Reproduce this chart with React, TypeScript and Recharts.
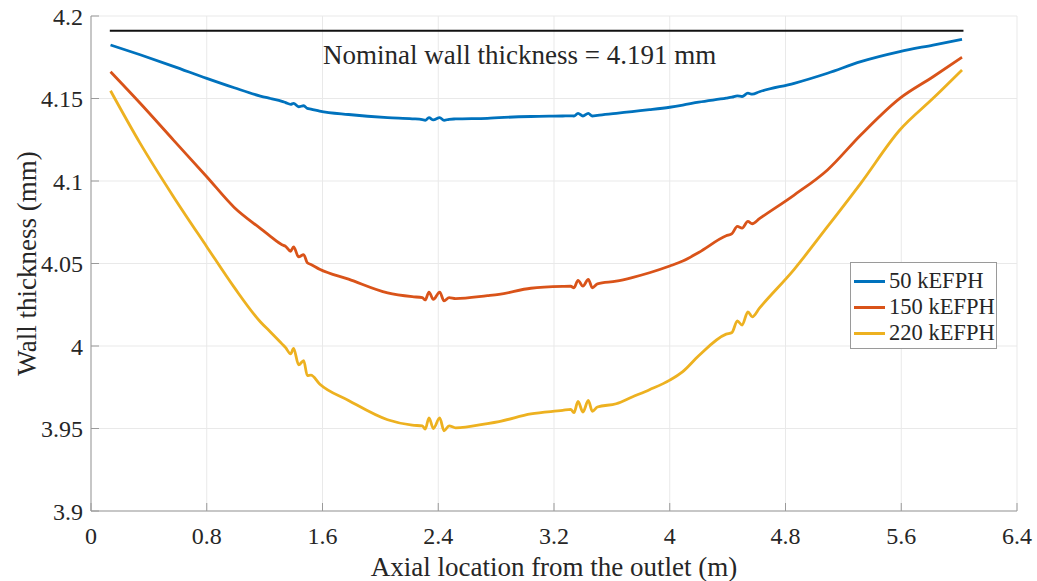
import {
  LineChart,
  Line,
  XAxis,
  YAxis,
  CartesianGrid,
  ReferenceLine,
  Legend,
  Label,
} from 'recharts';

// axial positions along the tube (m)
const AXIAL_M = [
  0.135, 0.34, 0.57, 0.8, 0.99, 1.17, 1.24, 1.32, 1.345, 1.38, 1.4, 1.435, 1.47, 1.495, 1.52, 1.58,
  1.78, 2.05, 2.22, 2.29, 2.31, 2.336, 2.366, 2.41, 2.44, 2.475, 2.52, 2.74, 2.82, 3.04, 3.26, 3.315,
  3.338, 3.366, 3.4, 3.437, 3.465, 3.5, 3.63, 3.74, 3.86, 4.0, 4.09, 4.2, 4.39, 4.43, 4.467, 4.5,
  4.54, 4.57, 4.62, 4.86, 5.09, 5.32, 5.59, 5.82, 6.02,
];

// wall thickness (mm) for each power level
const WALL_50 = [
  4.1824, 4.1765, 4.1695, 4.1622, 4.1565, 4.1515, 4.15, 4.1483, 4.1475, 4.1465, 4.147, 4.145, 4.1456,
  4.144, 4.1436, 4.1424, 4.1403, 4.1384, 4.1377, 4.1372, 4.1368, 4.1384, 4.137, 4.1384, 4.1368,
  4.1374, 4.1376, 4.138, 4.1384, 4.1391, 4.1394, 4.1395, 4.1394, 4.141, 4.1394, 4.141, 4.1394,
  4.1398, 4.141, 4.1421, 4.1432, 4.1447, 4.146, 4.1478, 4.1502, 4.1508, 4.1516, 4.1512, 4.1532,
  4.1526, 4.1541, 4.1592, 4.1653, 4.1723, 4.1784, 4.1824, 4.1859,
];
const WALL_150 = [
  4.1662, 4.1471, 4.1248, 4.1026, 4.084, 4.0713, 4.0665, 4.0614, 4.0604, 4.0574, 4.0601, 4.054,
  4.0554, 4.0504, 4.0494, 4.0465, 4.0405, 4.0322, 4.0299, 4.0293, 4.0279, 4.0327, 4.0283, 4.0327,
  4.0273, 4.0293, 4.0287, 4.0305, 4.0313, 4.035, 4.0361, 4.0362, 4.0353, 4.0398, 4.0363, 4.0404,
  4.0353, 4.0377, 4.0393, 4.0415, 4.0444, 4.0485, 4.0515, 4.0567, 4.0668, 4.0681, 4.0725, 4.0715,
  4.0755, 4.0741, 4.0772, 4.0915, 4.1067, 4.1279, 4.1501, 4.1632, 4.175,
];
const WALL_220 = [
  4.1547, 4.1228, 4.0905, 4.0602, 4.0355, 4.0147, 4.0085, 4.0013, 3.999, 3.9952, 3.9986, 3.9886,
  3.9911, 3.9821, 3.9823, 3.977, 3.967, 3.9553, 3.952, 3.9516, 3.9496, 3.9564, 3.95, 3.9564, 3.9486,
  3.9516, 3.9504, 3.953, 3.9542, 3.9588, 3.961, 3.9616, 3.9596, 3.9664, 3.96, 3.967, 3.9604, 3.963,
  3.965, 3.9691, 3.9735, 3.9793, 3.9845, 3.9941, 4.0072, 4.0082, 4.0152, 4.0127, 4.0207, 4.0177,
  4.023, 4.0465, 4.0723, 4.0986, 4.1309, 4.1501, 4.1673,
];

const NOMINAL_MM = 4.191;
const NOMINAL_SPAN = [0.13, 6.03];

const X_TICKS = [0, 0.8, 1.6, 2.4, 3.2, 4, 4.8, 5.6, 6.4];
const Y_TICKS = [3.9, 3.95, 4, 4.05, 4.1, 4.15, 4.2];

const SERIES = [
  { key: 'p50', name: '50 kEFPH', color: '#0072BD', values: WALL_50 },
  { key: 'p150', name: '150 kEFPH', color: '#D95319', values: WALL_150 },
  { key: 'p220', name: '220 kEFPH', color: '#EDB120', values: WALL_220 },
];

const rows = AXIAL_M.map((x, i) => {
  const row: Record<string, number> = { x };
  SERIES.forEach((s) => {
    row[s.key] = s.values[i];
  });
  return row;
});

const FONT = '"Liberation Serif", "Times New Roman", serif';
const TEXT = '#262626';
const AXIS = '#9a9a9a';
const tickStyle = { fill: TEXT, fontSize: 24, fontFamily: FONT };

function YTitle({ viewBox }: any) {
  const cx = viewBox.x + 27;
  const cy = viewBox.y + viewBox.height / 2;
  return (
    <text
      x={cx}
      y={cy}
      transform={`rotate(-90, ${cx}, ${cy})`}
      textAnchor="middle"
      dominantBaseline="central"
      fill={TEXT}
      fontSize={27}
      fontFamily={FONT}
    >
      Wall thickness (mm)
    </text>
  );
}

function XTitle({ viewBox }: any) {
  return (
    <text
      x={viewBox.x + viewBox.width / 2}
      y={viewBox.y + 65}
      textAnchor="middle"
      fill={TEXT}
      fontSize={27}
      fontFamily={FONT}
    >
      Axial location from the outlet (m)
    </text>
  );
}

function NominalText({ viewBox }: any) {
  return (
    <text
      x={viewBox.x + viewBox.width / 2 - 17}
      y={viewBox.y + 33}
      textAnchor="middle"
      fill={TEXT}
      fontSize={27}
      fontFamily={FONT}
    >
      {`Nominal wall thickness = ${NOMINAL_MM} mm`}
    </text>
  );
}

function LegendBox() {
  return (
    <div
      style={{
        boxSizing: 'border-box',
        width: 147,
        height: 87,
        border: `1px solid ${AXIS}`,
        background: '#fff',
        padding: '5px 0 0 3px',
        fontFamily: FONT,
        fontSize: 22.5,
        color: TEXT,
      }}
    >
      {SERIES.map((s) => (
        <div key={s.key} style={{ display: 'flex', alignItems: 'center', height: 26 }}>
          <span style={{ width: 31, height: 3, background: s.color, marginRight: 4 }} />
          <span style={{ lineHeight: '26px' }}>{s.name}</span>
        </div>
      ))}
    </div>
  );
}

export default function App() {
  return (
    <div style={{ position: 'absolute', left: 0, top: 0, background: '#fff' }}>
      <LineChart width={1037} height={581} data={rows} margin={{ top: 16, right: 20, bottom: 0, left: 0 }}>
        <CartesianGrid stroke="#e9e9e9" strokeWidth={1} />
        <XAxis
          dataKey="x"
          type="number"
          domain={[0, 6.4]}
          ticks={X_TICKS}
          interval={0}
          height={70}
          tick={tickStyle}
          tickFormatter={(v) => String(v)}
          tickSize={-8}
          tickMargin={24}
          stroke={AXIS}
          allowDataOverflow
        >
          <Label content={<XTitle />} />
        </XAxis>
        <XAxis
          xAxisId="top"
          orientation="top"
          type="number"
          domain={[0, 6.4]}
          ticks={X_TICKS}
          interval={0}
          height={0}
          tick={false}
          tickSize={-8}
          stroke={AXIS}
        />
        <YAxis
          type="number"
          domain={[3.9, 4.2]}
          ticks={Y_TICKS}
          interval={0}
          width={91}
          tick={tickStyle}
          tickFormatter={(v) => String(v)}
          tickSize={-8}
          tickMargin={16}
          stroke={AXIS}
          allowDataOverflow
        >
          <Label content={<YTitle />} />
        </YAxis>
        <YAxis
          yAxisId="right"
          orientation="right"
          type="number"
          domain={[3.9, 4.2]}
          ticks={Y_TICKS}
          interval={0}
          width={0}
          tick={false}
          tickSize={-8}
          stroke={AXIS}
        />
        <ReferenceLine
          segment={[
            { x: NOMINAL_SPAN[0], y: NOMINAL_MM },
            { x: NOMINAL_SPAN[1], y: NOMINAL_MM },
          ]}
          stroke="#111"
          strokeWidth={2}
          label={<NominalText />}
        />
        {SERIES.map((s) => (
          <Line
            key={s.key}
            dataKey={s.key}
            name={s.name}
            type="monotone"
            stroke={s.color}
            strokeWidth={2.8}
            strokeLinejoin="round"
            dot={false}
            activeDot={false}
            isAnimationActive={false}
          />
        ))}
        <Legend
          layout="horizontal"
          verticalAlign="middle"
          align="center"
          content={<LegendBox />}
          wrapperStyle={{ left: 850, top: 262, width: 147, height: 87 }}
        />
      </LineChart>
    </div>
  );
}
